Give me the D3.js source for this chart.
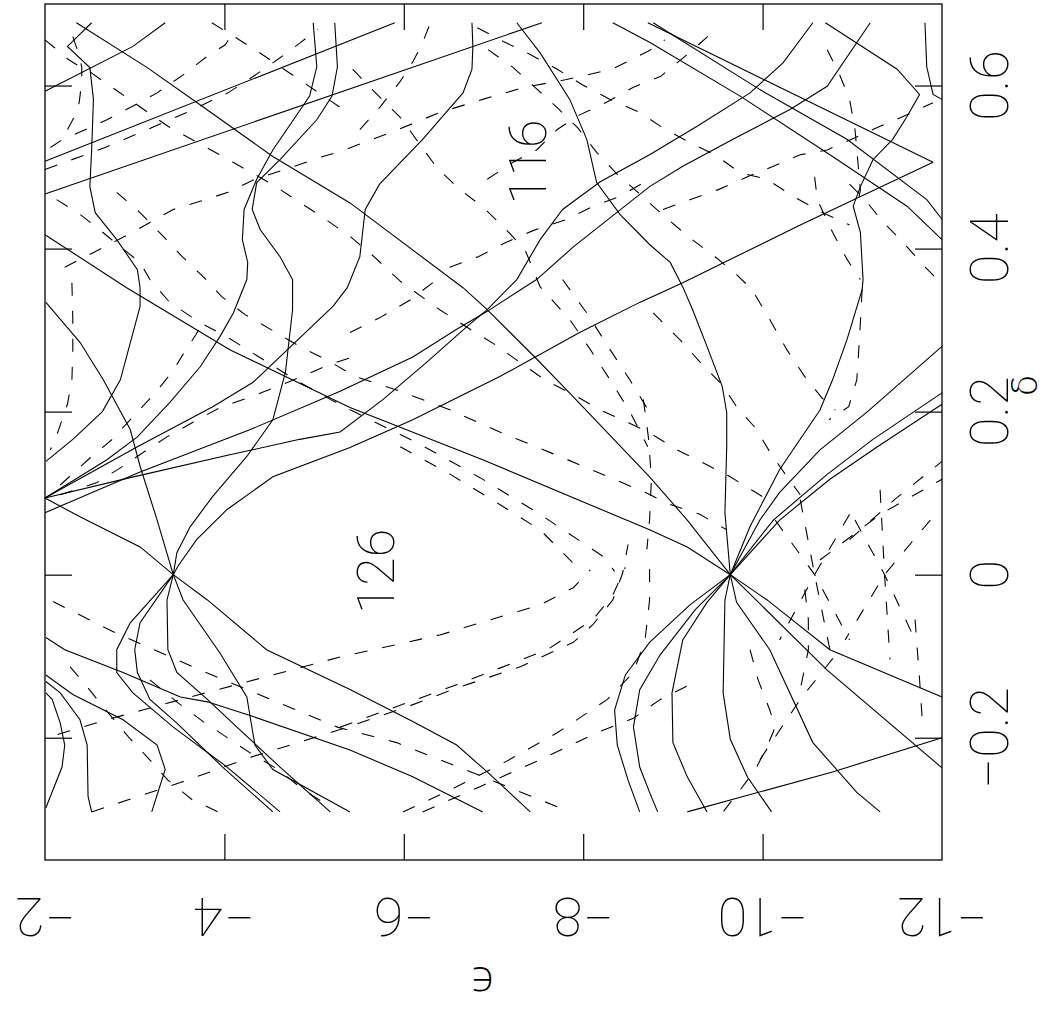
<!DOCTYPE html>
<html>
<head>
<meta charset="utf-8">
<script src="https://cdn.jsdelivr.net/npm/d3@7"></script>
<style>
  body { margin: 0; background: #fff; }
  text { font-family: "Roboto", "DejaVu Sans", sans-serif; font-weight: 100; fill: #000; }
</style>
</head>
<body>
<svg id="chart" width="1060" height="1011"></svg>
<script>
// axis ticks
var epsTicks = [-2, -4, -6, -8, -10, -12];
var deltaTicks = [-0.2, 0, 0.2, 0.4, 0.6];
var epsTickLabels = ["\u22122", "\u22124", "\u22126", "\u22128", "\u221210", "\u221212"];
var deltaTickLabels = ["\u22120.2", "0", "0.2", "0.4", "0.6"];
var gapLabels = [["116", -7.38, 0.506], ["126", -5.69, 0.004]];

// solid levels, [epsilon, delta]
var s1 = [[-2.35,0.677],[-3.14,0.622],[-3.76,0.574],[-4.54,0.513],[-5.40,0.456],[-6.66,0.352],[-6.93,0.325],[-7.46,0.267],[-7.89,0.218],[-8.74,0.120],[-9.16,0.067],[-9.64,0]];
var l1 = [[-2.00,0.593],[-2.98,0.648],[-3.34,0.677]];
var p1 = [[-2.52,0.677],[-2.25,0.648],[-2.50,0.622],[-2.54,0.583],[-2.52,0.521],[-2.50,0.476],[-2.56,0.444],[-2.80,0.411],[-3.03,0.374],[-3.06,0.352],[-3.06,0.329],[-2.84,0.239],[-2.64,0.200],[-2.31,0.166],[-2.01,0.139]];
var l2 = [[-2.00,0.507],[-5.90,0.677]];
var l3 = [[-2.00,0.467],[-7.54,0.677]];
var l4 = [[-2.00,0.417],[-2.91,0.352],[-4.06,0.276],[-5.40,0.205],[-6.88,0.141],[-8.74,0.055],[-9.16,0.034],[-9.64,0]];
var z1a = [[-4.99,0.677],[-5.03,0.623],[-4.95,0.587],[-4.54,0.521],[-4.36,0.485],[-4.22,0.448],[-4.20,0.411],[-4.26,0.383],[-4.25,0.362],[-4.10,0.321],[-3.95,0.292],[-3.73,0.255],[-3.39,0.211],[-3.03,0.169],[-2.69,0.141],[-2.00,0.094]];
var z1b = [[-5.23,0.677],[-5.26,0.623],[-5.20,0.587],[-5.03,0.558],[-4.62,0.509],[-4.36,0.481],[-4.31,0.448],[-4.40,0.423],[-4.62,0.390],[-4.76,0.362],[-4.76,0.325],[-4.68,0.248],[-4.54,0.190],[-4.25,0.145],[-3.87,0.096],[-3.62,0.059],[-3.47,0.027],[-3.43,0]];
var w1 = [[-2.00,0.094],[-3.03,0.157],[-3.87,0.206],[-4.32,0.236],[-5.21,0.329],[-5.37,0.352],[-5.51,0.390],[-5.57,0.448],[-5.73,0.479],[-6.21,0.534],[-6.66,0.591],[-6.76,0.620],[-6.77,0.648],[-6.76,0.677]];
var z2 = [[-7.26,0.677],[-7.52,0.640],[-7.85,0.583],[-8.04,0.534],[-8.15,0.481],[-8.41,0.442],[-8.74,0.405],[-8.97,0.383],[-9.11,0.353],[-9.22,0.325],[-9.38,0.280],[-9.55,0.231],[-9.60,0.199],[-9.60,0.157],[-9.58,0.076],[-9.64,0],[-9.58,-0.031],[-9.56,-0.145],[-9.64,-0.202],[-9.83,-0.248],[-10.10,-0.291]];
var ua = [[-2.00,0.076],[-3.06,0.126],[-4.29,0.178],[-5.29,0.225],[-6.10,0.267],[-6.59,0.301],[-6.93,0.323],[-7.48,0.362],[-7.89,0.402],[-8.74,0.476],[-9.11,0.501],[-9.67,0.534],[-10.31,0.571],[-10.72,0.599],[-11.20,0.677]];
var ub = [[-2.00,0.094],[-2.95,0.119],[-4.06,0.147],[-4.84,0.166],[-5.29,0.175],[-5.77,0.215],[-6.26,0.261],[-6.70,0.304],[-6.93,0.325],[-7.26,0.362],[-7.52,0.411],[-7.77,0.448],[-8.19,0.482],[-8.74,0.515],[-9.27,0.550],[-9.86,0.591],[-10.23,0.628],[-10.56,0.677]];
var aUp = [[-3.43,0],[-3.48,0.010],[-3.69,0.043],[-4.03,0.080],[-4.54,0.120],[-5.40,0.156],[-6.10,0.190],[-7.07,0.243],[-7.96,0.297],[-8.63,0.334],[-9.11,0.358],[-10.42,0.429],[-11.90,0.506]];
var v1 = [[-8.72,0.677],[-11.90,0.506]];
var v2 = [[-8.78,0.677],[-9.97,0.595],[-10.94,0.534],[-11.83,0.460],[-12.00,0.436]];
var v3 = [[-8.33,0.677],[-8.74,0.653],[-9.75,0.587],[-10.78,0.513],[-11.61,0.452],[-12.00,0.411]];
var bu1 = [[-9.64,0],[-9.86,0.059],[-10.19,0.129],[-10.64,0.202],[-10.78,0.239],[-10.94,0.288],[-11.11,0.350],[-11.12,0.362],[-11.09,0.420],[-11.01,0.452],[-11.09,0.476],[-11.23,0.509],[-11.45,0.534],[-11.61,0.562],[-11.75,0.589],[-11.50,0.620],[-10.70,0.677]];
var bu2 = [[-9.64,0],[-9.97,0.067],[-10.19,0.101],[-10.64,0.153],[-11.16,0.199],[-12.00,0.280]];
var bu3 = [[-9.64,0],[-10.12,0.067],[-10.72,0.123],[-11.23,0.166],[-12.00,0.223]];
var bu4 = [[-9.64,0],[-10.19,0.067],[-10.75,0.117],[-11.28,0.157],[-12.00,0.209]];
var rt = [[-11.81,0.677],[-11.83,0.623],[-11.90,0.589],[-12.00,0.583]];
var bd2 = [[-9.64,0],[-9.71,-0.034],[-10.08,-0.092],[-10.56,-0.206],[-11.05,-0.267],[-11.31,-0.291]];
var bd3 = [[-9.64,0],[-10.05,-0.031],[-10.75,-0.092],[-12.00,-0.150]];
var bd4 = [[-9.64,0],[-10.72,-0.117],[-12.00,-0.237]];
var bd5 = [[-9.64,0],[-9.38,-0.034],[-9.11,-0.080],[-8.99,-0.145],[-9.00,-0.206],[-9.16,-0.248],[-9.38,-0.291]];
var bd6 = [[-9.64,0],[-9.19,-0.037],[-8.74,-0.083],[-8.47,-0.123],[-8.35,-0.166],[-8.38,-0.209],[-8.50,-0.252],[-8.63,-0.291]];
var bd7 = [[-9.64,0],[-9.25,-0.043],[-8.86,-0.098],[-8.63,-0.141],[-8.56,-0.187],[-8.63,-0.236],[-8.74,-0.267],[-8.83,-0.291]];
var br = [[-9.16,-0.291],[-10.78,-0.242],[-12.00,-0.200]];
var ad1 = [[-2.00,0.094],[-2.39,0.071],[-3.06,0.034],[-3.43,0],[-3.81,-0.031],[-4.47,-0.092],[-5.40,-0.141],[-6.10,-0.180],[-6.59,-0.209],[-6.93,-0.242],[-7.41,-0.291]];
var ad2 = [[-3.43,0],[-3.54,-0.031],[-3.95,-0.096],[-4.25,-0.150],[-4.34,-0.209],[-4.54,-0.239],[-5.40,-0.291]];
var ad3 = [[-3.43,0],[-3.36,-0.031],[-3.37,-0.092],[-3.47,-0.120],[-3.81,-0.153],[-4.17,-0.190],[-4.62,-0.236],[-5.18,-0.291]];
var ad4 = [[-3.43,0],[-3.06,-0.059],[-3.00,-0.092],[-3.03,-0.120],[-3.17,-0.153],[-3.47,-0.182],[-3.98,-0.236],[-4.54,-0.291]];
var ad5 = [[-3.43,0],[-2.95,-0.059],[-2.80,-0.092],[-2.80,-0.120],[-2.98,-0.145],[-3.43,-0.187],[-4.03,-0.236],[-4.62,-0.291]];
var aul = [[-3.43,0],[-3.25,0.067],[-3.06,0.133],[-2.95,0.178],[-2.65,0.239],[-2.39,0.285],[-2.01,0.334]];
var ll1 = [[-2.01,-0.077],[-2.22,-0.092],[-2.87,-0.120],[-3.51,-0.150],[-3.81,-0.156],[-4.32,-0.174],[-5.40,-0.215],[-6.10,-0.248],[-6.88,-0.291]];
var ll2 = [[-2.01,-0.123],[-2.31,-0.147],[-2.87,-0.178],[-3.25,-0.209],[-3.34,-0.239],[-3.19,-0.291]];
var ll3 = [[-2.01,-0.131],[-2.17,-0.145],[-2.39,-0.178],[-2.47,-0.209],[-2.48,-0.272],[-2.52,-0.291]];
var ll4 = [[-2.01,-0.145],[-2.08,-0.153],[-2.17,-0.182],[-2.22,-0.209],[-2.19,-0.236],[-2.01,-0.286]];

// dashed levels, [epsilon, delta]
var da = [[-2.52,-0.291],[-3.51,-0.255],[-4.32,-0.223],[-5.29,-0.190],[-6.04,-0.162],[-6.59,-0.139],[-7.30,-0.113],[-7.89,-0.083],[-8.11,-0.061],[-8.33,-0.031],[-8.44,0.002],[-8.50,0.037]];
var da2 = [[-5.29,-0.187],[-6.59,-0.135],[-7.60,-0.092],[-8.11,-0.055],[-8.33,-0.025],[-8.47,0.009]];
var db = [[-2.14,-0.196],[-2.69,-0.178],[-3.62,-0.150],[-4.54,-0.123],[-5.29,-0.101],[-6.40,-0.074],[-7.52,-0.037],[-7.89,-0.016],[-8.08,0.006]];
var dc = [[-5.99,-0.291],[-6.52,-0.264],[-7.11,-0.231],[-7.71,-0.194],[-8.27,-0.153],[-8.56,-0.120],[-8.69,-0.080],[-8.74,-0.031],[-8.74,0.018]];
var dd = [[-6.21,-0.291],[-6.85,-0.260],[-7.52,-0.227],[-8.15,-0.194],[-8.56,-0.176],[-8.86,-0.153],[-9.30,-0.129]];
var de = [[-2.09,-0.033],[-2.78,-0.071],[-3.73,-0.117],[-5.26,-0.187],[-5.92,-0.206],[-6.77,-0.243],[-7.74,-0.286]];
var dq = [[-2.80,0.469],[-3.06,0.444],[-3.30,0.417],[-3.53,0.390],[-3.76,0.366],[-3.97,0.341],[-4.23,0.319],[-4.56,0.298],[-4.84,0.280],[-5.18,0.261],[-5.46,0.243],[-5.96,0.225],[-6.52,0.202],[-7.07,0.175],[-7.74,0.145],[-8.69,0.101],[-8.97,0.086],[-9.30,0.074],[-9.60,0.055]];
var dg = [[-2.13,0.460],[-2.39,0.442],[-2.61,0.423],[-2.84,0.402],[-3.06,0.383],[-3.17,0.362],[-3.39,0.334],[-3.73,0.309],[-4.04,0.291],[-4.40,0.266],[-4.79,0.239],[-5.18,0.215],[-5.55,0.194],[-6.18,0.160],[-6.85,0.119],[-7.52,0.074],[-8.24,0.021],[-8.35,0.004]];
var dh = [[-5.96,0.157],[-6.52,0.123],[-7.07,0.086],[-7.52,0.055],[-7.88,0.015]];
var di = [[-5.43,0.620],[-5.62,0.598],[-5.96,0.561],[-6.37,0.499],[-6.63,0.472],[-6.87,0.452],[-7.09,0.429],[-7.35,0.399],[-7.52,0.353],[-7.85,0.313],[-8.08,0.276],[-8.30,0.239],[-8.52,0.200],[-8.72,0.157]];
var dj = [[-7.77,0.362],[-8.04,0.321],[-8.30,0.276],[-8.52,0.239],[-8.74,0.199]];
var dk = [[-5.40,0.297],[-5.73,0.315],[-6.07,0.337],[-6.37,0.362]];
var dl = [[-2.22,0.377],[-2.59,0.398],[-2.89,0.415],[-3.17,0.432],[-3.43,0.448],[-3.73,0.458],[-4.04,0.469],[-4.34,0.485],[-4.73,0.499],[-5.07,0.512],[-5.29,0.519],[-5.94,0.546],[-6.40,0.567],[-6.88,0.583],[-7.35,0.598],[-7.80,0.607],[-8.32,0.620],[-8.74,0.643],[-8.91,0.656]];
var dm = [[-6.51,0.377],[-6.83,0.390],[-7.13,0.407],[-7.44,0.422],[-7.82,0.436],[-8.11,0.452],[-8.41,0.464],[-8.74,0.485]];
var dn = [[-3.86,0.677],[-4.34,0.644],[-4.84,0.607],[-5.32,0.571]];
var dp = [[-2.00,0.656],[-2.11,0.646],[-2.26,0.632],[-2.39,0.623],[-2.50,0.617],[-2.65,0.605],[-2.81,0.593],[-3.37,0.550],[-3.95,0.515],[-4.53,0.479],[-5.10,0.438],[-5.40,0.415],[-5.68,0.389],[-5.96,0.360],[-6.40,0.325],[-6.74,0.301],[-7.02,0.282],[-7.30,0.260],[-7.57,0.239],[-7.89,0.221],[-8.19,0.202],[-8.49,0.187],[-8.74,0.174],[-9.05,0.153],[-9.34,0.137],[-9.64,0.120],[-9.92,0.101],[-10.14,0.086]];
var dr = [[-2.06,0.524],[-2.20,0.534],[-2.37,0.542],[-2.69,0.558],[-2.95,0.573],[-3.25,0.591],[-3.54,0.613],[-3.81,0.636],[-4.01,0.650],[-4.12,0.669]];
var ds = [[-2.30,0.358],[-2.31,0.313],[-2.31,0.276],[-2.30,0.239],[-2.25,0.209],[-2.14,0.174],[-2.06,0.153]];
var dt = [[-11.11,0.350],[-11.09,0.309],[-11.07,0.272],[-11.05,0.239],[-10.96,0.206],[-10.74,0.190]];
var l2c = [[-2.00,0.497],[-2.67,0.524],[-3.14,0.546],[-3.58,0.567],[-4.04,0.591],[-4.32,0.611],[-4.62,0.634],[-4.84,0.652],[-5.04,0.669]];
var dz1 = [[-2.17,0.098],[-2.58,0.113],[-2.84,0.131],[-3.11,0.151],[-3.36,0.169],[-3.65,0.187],[-3.95,0.205],[-4.34,0.220],[-4.73,0.237],[-5.18,0.258],[-5.40,0.266]];
var dz2 = [[-2.17,0.110],[-2.48,0.141],[-2.75,0.166],[-3.00,0.196],[-3.23,0.223],[-3.42,0.249],[-3.56,0.274],[-3.68,0.294],[-3.78,0.313]];
var dzA = [[-6.82,0.671],[-7.11,0.654],[-7.41,0.638],[-7.71,0.620],[-7.99,0.601],[-8.30,0.583],[-8.63,0.567],[-8.89,0.548],[-9.17,0.531],[-9.47,0.515],[-9.75,0.493],[-10.05,0.485],[-10.34,0.464],[-10.67,0.444],[-10.97,0.429]];
var dzB = [[-10.97,0.479],[-11.14,0.460],[-11.34,0.433],[-11.57,0.407],[-11.79,0.380],[-12.00,0.356]];
var dw = [[-6.94,0.644],[-7.22,0.622],[-7.46,0.598],[-7.71,0.573],[-7.94,0.548],[-8.15,0.518],[-8.38,0.491],[-8.61,0.469],[-8.86,0.444],[-9.19,0.413],[-9.47,0.390],[-9.71,0.368],[-9.88,0.350],[-10.08,0.313],[-10.27,0.276],[-10.47,0.243],[-10.66,0.217],[-10.81,0.202]];
var dx = [[-6.93,0.485],[-7.22,0.506],[-7.48,0.521],[-7.71,0.546],[-7.96,0.564],[-8.27,0.580],[-8.56,0.598],[-8.86,0.611],[-9.16,0.638],[-9.44,0.665]];
var dy = [[-5.51,0.546],[-5.73,0.573],[-5.96,0.605],[-6.10,0.629],[-6.20,0.650],[-6.29,0.675]];
var dt3 = [[-10.72,0.644],[-10.86,0.613],[-10.97,0.583],[-11.03,0.546],[-11.06,0.509],[-11.09,0.472],[-11.05,0.448]];
var dt4 = [[-10.58,0.488],[-10.61,0.460],[-10.78,0.420],[-10.94,0.387],[-11.09,0.362]];
var dt6 = [[-8.89,0.448],[-9.19,0.460],[-9.50,0.472],[-9.83,0.488],[-10.12,0.501],[-10.42,0.515],[-10.72,0.521],[-11.03,0.536],[-11.31,0.550],[-11.61,0.564],[-11.90,0.579]];
var dv = [[-8.67,0.215],[-8.73,0.166],[-8.76,0.117],[-8.74,0.067],[-8.71,0.031]];
var dv4 = [[-8.78,0.321],[-9.08,0.288],[-9.30,0.261],[-9.55,0.233],[-9.71,0.206],[-9.92,0.180],[-10.10,0.147],[-10.28,0.119],[-10.42,0.098]];
var dl1 = [[-2.28,-0.113],[-2.48,-0.139],[-2.70,-0.169],[-2.93,-0.199],[-3.15,-0.225],[-3.37,-0.252],[-3.64,-0.276],[-3.93,-0.291]];
var dl3 = [[-3.17,-0.129],[-3.48,-0.157],[-3.76,-0.180],[-4.06,-0.202],[-4.32,-0.221],[-4.60,-0.239],[-4.88,-0.264],[-5.20,-0.286]];
var dtl = [[-2.31,0.660],[-2.36,0.644],[-2.41,0.623],[-2.41,0.607],[-2.39,0.587],[-2.37,0.571],[-2.28,0.552],[-2.22,0.540]];
// dashed fans through the two crossings right of the main one
var c1a = [[-10.14,0.067],[-10.58,0],[-10.97,-0.080]];
var c1b = [[-10.97,0.074],[-10.58,0],[-10.19,-0.080]];
var c1c = [[-10.42,0.092],[-10.58,0],[-10.75,-0.092]];
var c2a = [[-11.03,0.067],[-11.36,0],[-11.70,-0.080]];
var c2b = [[-11.87,0.067],[-11.36,0],[-10.92,-0.080]];
var c2c = [[-11.31,0.104],[-11.36,0],[-11.42,-0.104]];
var u1 = [[-10.97,0.043],[-11.47,0.092],[-12.00,0.139]];
var u2 = [[-10.64,0.018],[-11.31,0.074],[-12.00,0.117]];
var r5 = [[-9.97,-0.227],[-10.42,-0.153],[-10.86,-0.092]];
var rb1 = [[-9.86,-0.092],[-9.95,-0.129],[-10.08,-0.166],[-10.14,-0.187],[-10.05,-0.211],[-9.92,-0.239],[-9.75,-0.264],[-9.56,-0.291]];
var rb2 = [[-10.47,-0.018],[-10.51,-0.055],[-10.51,-0.092],[-10.42,-0.141]];
var rb3 = [[-11.70,-0.055],[-11.75,-0.129],[-11.78,-0.178]];

var solidCurves = [s1, l1, p1, l2, l3, l4, z1a, z1b, w1, z2, ua, ub, aUp, v1, v2, v3, bu1, bu2, bu3, bu4, rt,
  bd2, bd3, bd4, bd5, bd6, bd7, br, ad1, ad2, ad3, ad4, ad5, aul, ll1, ll2, ll3, ll4];
var dashedCurves = [da, da2, db, dc, dd, de, dq, dg, dh, di, dj, dk, dl, dm, dn, dp, dr, ds, dt, l2c, dz1, dz2,
  dzA, dzB, dw, dx, dy, dt3, dt4, dt6, dv, dv4, dl1, dl3, dtl,
  c1a, c1b, c1c, c2a, c2b, c2c, u1, u2, r5, rb1, rb2, rb3];

var svg = d3.select("#chart");
var x = d3.scaleLinear().domain([-2, -12]).range([45, 942]);
var y = d3.scaleLinear().domain([-0.35, 0.70]).range([860, 4]);

var line = d3.line()
  .x(function(d) { return x(d[0]); })
  .y(function(d) { return y(d[1]); });

var plot = svg.append("g");

plot.selectAll(".solid")
  .data(solidCurves)
  .enter().append("path")
  .attr("class", "solid")
  .attr("d", line)
  .attr("fill", "none")
  .attr("stroke", "#000")
  .attr("stroke-width", 1.1);

plot.selectAll(".dashed")
  .data(dashedCurves)
  .enter().append("path")
  .attr("class", "dashed")
  .attr("d", line)
  .attr("fill", "none")
  .attr("stroke", "#000")
  .attr("stroke-width", 1.1)
  .attr("stroke-dasharray", "13,15");

// frame and inward ticks
svg.append("rect")
  .attr("x", x(-2)).attr("y", y(0.70))
  .attr("width", x(-12) - x(-2)).attr("height", y(-0.35) - y(0.70))
  .attr("fill", "none").attr("stroke", "#000").attr("stroke-width", 1.3);

var inner = epsTicks.slice(1, -1);
function cleanAxis(g) { g.select(".domain").remove(); g.selectAll("text").remove(); g.selectAll("line").attr("stroke", "#000").attr("stroke-width", 1.2); }
svg.append("g").attr("transform", "translate(0," + y(-0.35) + ")")
  .call(d3.axisBottom(x).tickValues(inner).tickSize(-26).tickFormat("")).call(cleanAxis);
svg.append("g").attr("transform", "translate(0," + y(0.70) + ")")
  .call(d3.axisTop(x).tickValues(inner).tickSize(-26).tickFormat("")).call(cleanAxis);
svg.append("g").attr("transform", "translate(" + x(-2) + ",0)")
  .call(d3.axisLeft(y).tickValues(deltaTicks).tickSize(-27).tickFormat("")).call(cleanAxis);
svg.append("g").attr("transform", "translate(" + x(-12) + ",0)")
  .call(d3.axisRight(y).tickValues(deltaTicks).tickSize(-27).tickFormat("")).call(cleanAxis);

// tick labels, drawn the way the page was printed (rotated)
svg.selectAll(".xl")
  .data(epsTicks)
  .enter().append("text")
  .attr("class", "xl")
  .attr("text-anchor", "middle")
  .attr("font-size", 54)
  .attr("transform", function(d) { return "translate(" + x(d) + ",898) rotate(180)"; })
  .text(function(d, i) { return epsTickLabels[i]; });

svg.selectAll(".yl")
  .data(deltaTicks)
  .enter().append("text")
  .attr("class", "yl")
  .attr("text-anchor", "middle")
  .attr("font-size", 54)
  .attr("transform", function(d) { return "translate(1008," + y(d) + ") rotate(-90)"; })
  .text(function(d, i) { return deltaTickLabels[i]; });

svg.append("text")
  .attr("text-anchor", "middle")
  .attr("font-size", 42)
  .attr("transform", "translate(481,968) rotate(180)")
  .text("\u03f5");

svg.append("text")
  .attr("text-anchor", "middle")
  .attr("font-size", 36)
  .attr("transform", "translate(1037," + y(0.232) + ") rotate(-90)")
  .style("font-family", "'DejaVu Sans', sans-serif")
  .style("font-weight", 200)
  .text("\u03b4");

svg.selectAll(".gap")
  .data(gapLabels)
  .enter().append("text")
  .attr("class", "gap")
  .attr("text-anchor", "middle")
  .attr("font-size", 52)
  .attr("transform", function(d) { return "translate(" + (x(d[1]) + 18) + "," + y(d[2]) + ") rotate(-90)"; })
  .text(function(d) { return d[0]; });
</script>
</body>
</html>
